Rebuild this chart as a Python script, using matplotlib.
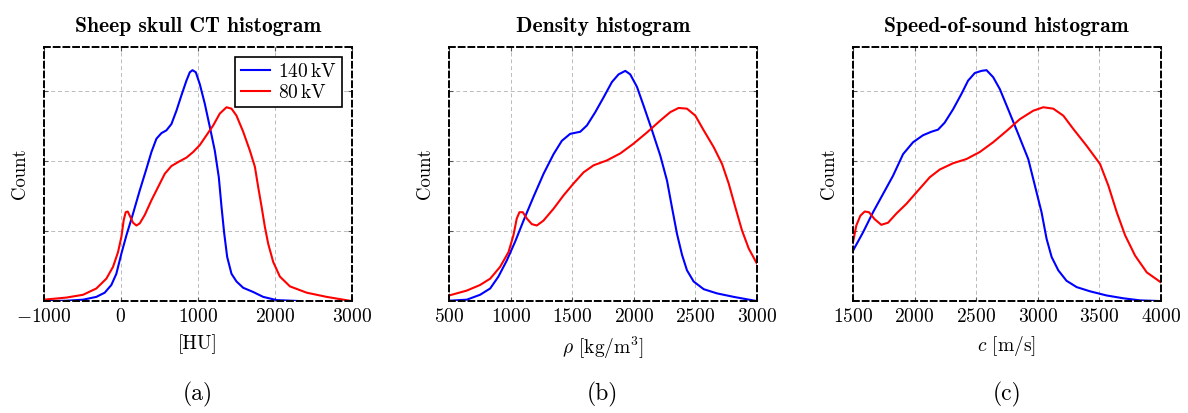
import matplotlib
matplotlib.use("Agg")
import matplotlib.pyplot as plt

plt.rcParams["font.family"] = ["cmr10", "DejaVu Serif"]
plt.rcParams["mathtext.fontset"] = "cm"
plt.rcParams["axes.unicode_minus"] = False

# --- (a) sheep skull CT, HU ---
hu_140_x = [-1000, -709, -492, -319, -210, -124, -59, 7, 72, 158, 245, 332, 397,
            462, 527, 592, 657, 722, 787, 852, 896, 931, 974, 1026, 1091, 1156,
            1221, 1273, 1308, 1343, 1382, 1438, 1503, 1590, 1720, 1850, 2024, 2328]
hu_140_y = [0.0, 0.005, 0.02, 0.06, 0.12, 0.23, 0.39, 0.68, 0.94, 1.25, 1.58, 1.89,
            2.13, 2.32, 2.40, 2.44, 2.53, 2.72, 2.94, 3.15, 3.27, 3.30, 3.27, 3.10,
            2.82, 2.49, 2.15, 1.77, 1.35, 0.97, 0.63, 0.39, 0.28, 0.19, 0.13, 0.06,
            0.014, 0.0]
hu_80_x = [-1000, -709, -492, -319, -189, -102, -37, 7, 37, 63, 89, 124, 158, 202,
           245, 310, 397, 484, 571, 657, 766, 852, 939, 1026, 1113, 1200, 1286,
           1373, 1438, 1503, 1590, 1677, 1742, 1785, 1829, 1872, 1915, 1980, 2067,
           2198, 2415, 2675, 3000]
hu_80_y = [0.02, 0.05, 0.09, 0.18, 0.32, 0.49, 0.70, 0.92, 1.16, 1.27, 1.28, 1.20,
           1.12, 1.08, 1.11, 1.23, 1.44, 1.63, 1.82, 1.93, 2.00, 2.05, 2.13, 2.23,
           2.37, 2.51, 2.68, 2.77, 2.75, 2.65, 2.42, 2.15, 1.92, 1.63, 1.35, 1.06,
           0.82, 0.56, 0.35, 0.21, 0.12, 0.06, 0.0]

# --- (b) density, kg/m^3 ---
rho_140_x = [500, 644, 752, 834, 901, 969, 1037, 1105, 1186, 1268, 1349, 1416,
             1484, 1566, 1620, 1688, 1755, 1823, 1877, 1932, 1972, 2027, 2081,
             2149, 2216, 2271, 2311, 2352, 2393, 2433, 2487, 2569, 2677, 2813, 3000]
rho_140_y = [0.005, 0.02, 0.09, 0.18, 0.35, 0.58, 0.85, 1.15, 1.49, 1.82, 2.10,
             2.29, 2.39, 2.42, 2.51, 2.70, 2.91, 3.13, 3.24, 3.29, 3.24, 3.06, 2.79,
             2.44, 2.08, 1.72, 1.34, 0.96, 0.66, 0.44, 0.28, 0.17, 0.11, 0.06, 0.0]
rho_80_x = [500, 644, 752, 834, 915, 983, 1023, 1050, 1072, 1099, 1132, 1172, 1213,
            1267, 1349, 1430, 1511, 1593, 1674, 1782, 1891, 1999, 2108, 2216, 2297,
            2365, 2433, 2501, 2569, 2650, 2718, 2772, 2826, 2880, 2935, 3000]
rho_80_y = [0.08, 0.15, 0.23, 0.32, 0.49, 0.70, 0.94, 1.18, 1.27, 1.27, 1.18, 1.10,
            1.08, 1.15, 1.32, 1.51, 1.68, 1.84, 1.94, 2.01, 2.11, 2.25, 2.41, 2.58,
            2.70, 2.76, 2.75, 2.65, 2.44, 2.20, 1.96, 1.68, 1.34, 1.01, 0.75, 0.54]

# --- (c) speed of sound, m/s ---
c_140_x = [1500, 1581, 1663, 1744, 1825, 1907, 1988, 2069, 2137, 2191, 2245, 2313,
           2381, 2435, 2490, 2544, 2585, 2639, 2693, 2761, 2842, 2924, 2978, 3032,
           3073, 3114, 3168, 3235, 3317, 3425, 3561, 3696, 3832, 4000]
c_140_y = [0.72, 0.98, 1.27, 1.53, 1.79, 2.10, 2.27, 2.37, 2.42, 2.45, 2.55, 2.74,
           2.96, 3.15, 3.26, 3.29, 3.30, 3.20, 3.03, 2.74, 2.39, 2.03, 1.65, 1.27,
           0.89, 0.63, 0.44, 0.29, 0.20, 0.14, 0.08, 0.04, 0.01, 0.0]
c_80_x = [1500, 1527, 1560, 1595, 1630, 1676, 1730, 1785, 1852, 1934, 2029, 2124,
          2205, 2313, 2422, 2530, 2639, 2747, 2856, 2964, 3046, 3127, 3209, 3290,
          3398, 3507, 3575, 3643, 3711, 3792, 3887, 4000]
c_80_y = [0.84, 1.08, 1.22, 1.28, 1.27, 1.17, 1.09, 1.12, 1.25, 1.39, 1.58, 1.77,
          1.88, 1.97, 2.03, 2.13, 2.27, 2.43, 2.60, 2.72, 2.77, 2.75, 2.65, 2.46,
          2.22, 1.96, 1.65, 1.27, 0.94, 0.65, 0.41, 0.27]

titles = ["Sheep skull CT histogram", "Density histogram", "Speed-of-sound histogram"]
xlabels = ["[HU]", r"$\rho$ [kg/m$^3$]", r"$c$ [m/s]"]
panel_tags = ["(a)", "(b)", "(c)"]
xticks = [[-1000, 0, 1000, 2000, 3000],
          [500, 1000, 1500, 2000, 2500, 3000],
          [1500, 2000, 2500, 3000, 3500, 4000]]
legend_labels = [r"$140\,\mathrm{kV}$", r"$80\,\mathrm{kV}$"]

series = [(hu_140_x, hu_140_y, hu_80_x, hu_80_y),
          (rho_140_x, rho_140_y, rho_80_x, rho_80_y),
          (c_140_x, c_140_y, c_80_x, c_80_y)]

fig = plt.figure(figsize=(11.88, 4.13), dpi=100)
lefts = [0.037, 0.378, 0.718]
for i, (x1, y1, x2, y2) in enumerate(series):
    ax = fig.add_axes([lefts[i], 0.271, 0.259, 0.615])
    ax.plot(x1, y1, color="#0000ff", lw=1.5, label=legend_labels[0])
    ax.plot(x2, y2, color="#ff0000", lw=1.5, label=legend_labels[1])
    ax.set_xlim(xticks[i][0], xticks[i][-1])
    ax.set_ylim(0, 3.63)
    ax.set_xticks(xticks[i])
    ax.set_xticklabels([r"$%d$" % v for v in xticks[i]], fontsize=14)
    ax.set_yticks([1, 2, 3])
    ax.set_yticklabels([])
    ax.tick_params(direction="in", length=3, width=0.8, top=True, right=True,
                   color="#555555", pad=5)
    ax.grid(True, color="#bbbbbb", ls=(0, (4, 3)), lw=0.7)
    for sp in ax.spines.values():
        sp.set_linestyle((0, (3, 2)))
        sp.set_linewidth(1.4)
        sp.set_color("black")
    ax.set_title(titles[i], fontfamily="cmb10", fontsize=15.5, pad=11)
    ax.set_xlabel(xlabels[i], fontsize=14, labelpad=6)
    ax.set_ylabel("Count", fontsize=13.5, labelpad=6)
    fig.text(lefts[i] + 0.1295, 0.044, panel_tags[i], ha="center", va="center",
             fontsize=17)
    if i == 0:
        leg = ax.legend(loc="upper right", fontsize=14, fancybox=False,
                        framealpha=1, edgecolor="black", handlelength=1.5,
                        borderpad=0.3, labelspacing=0.15, handletextpad=0.4,
                        borderaxespad=0.5)
        leg.get_frame().set_linewidth(1.2)

fig.savefig("out.png", dpi=100)
